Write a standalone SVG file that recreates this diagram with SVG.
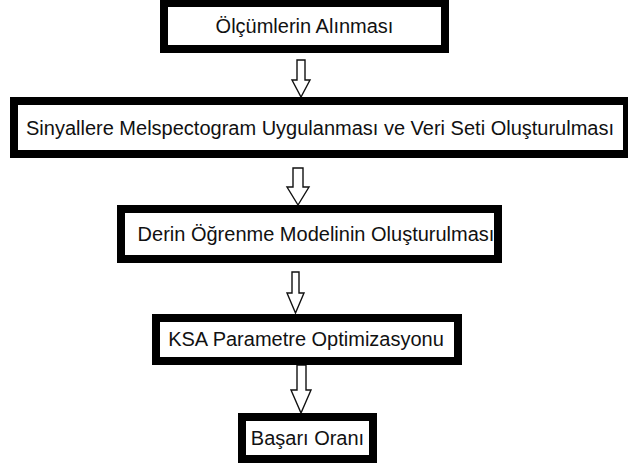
<svg xmlns="http://www.w3.org/2000/svg" width="628" height="469" viewBox="0 0 628 469">
<style>
.box{fill:#fff;stroke:#000;stroke-width:8}
.lbl{font-family:"Liberation Sans",Arial,sans-serif;font-size:20px;fill:#111;text-anchor:middle}
.arr{fill:#fff;stroke:#111;stroke-width:1.4;stroke-linejoin:miter}
</style>
<rect width="628" height="469" fill="#fff"/>
<g id="connectors">
<polygon class="arr" points="297,60 305,60 305,80 310,80 301,97 292,80 297,80"/>
<polygon class="arr" points="293,168 303,168 303,187 309,187 298,205 287,187 293,187"/>
<polygon class="arr" points="292,272 299,272 299,293 304,293 295.5,313 287,293 292,293"/>
<polygon class="arr" points="297,365 306,365 306,390 311,390 301,413 291,390 297,390"/>
</g>
<g id="n1">
<rect class="box" x="164" y="3" width="281" height="46"/>
<text class="lbl" x="304.5" y="33">Ölçümlerin Alınması</text>
</g>
<g id="n2">
<rect class="box" x="14" y="101" width="613" height="53"/>
<text class="lbl" x="320" y="135">Sinyallere Melspectogram Uygulanması ve Veri Seti Oluşturulması</text>
</g>
<g id="n3">
<rect class="box" x="121" y="209" width="377" height="50"/>
<text class="lbl" x="316" y="241">Derin Öğrenme Modelinin Oluşturulması</text>
</g>
<g id="n4">
<rect class="box" x="156" y="318" width="302" height="43"/>
<text class="lbl" x="306" y="346">KSA Parametre Optimizasyonu</text>
</g>
<g id="n5">
<rect class="box" x="242" y="417" width="131" height="42"/>
<text class="lbl" x="307.5" y="445">Başarı Oranı</text>
</g>
</svg>
